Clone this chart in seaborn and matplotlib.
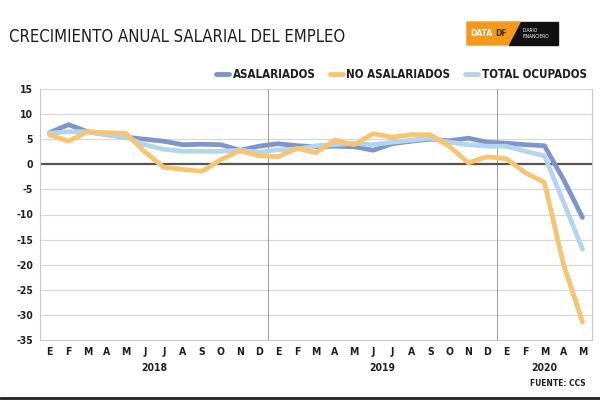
import pandas as pd
import matplotlib.pyplot as plt
from matplotlib.patches import Polygon
from matplotlib.lines import Line2D
import seaborn as sns

# Monthly labels, Jan 2018 .. May 2020 (Spanish initials)
meses = list("EFMAMJJASOND") * 2 + list("EFMAM")
anios = ["2018", "2019", "2020"]

asalariados = [6.3, 7.9, 6.5, 5.9, 5.4, 5.0, 4.6, 3.9, 4.0, 3.9, 2.8, 3.6,
               4.1, 3.7, 3.5, 3.6, 3.5, 2.8, 4.1, 4.6, 5.0, 4.7, 5.2, 4.4,
               4.2, 3.9, 3.7, -3.0, -10.6]
no_asalariados = [5.9, 4.6, 6.5, 6.3, 6.2, 2.5, -0.6, -1.0, -1.4, 0.9, 2.7, 1.7,
                  1.5, 3.2, 2.3, 4.8, 3.9, 6.1, 5.4, 5.9, 5.9, 3.6, 0.3, 1.5,
                  1.1, -1.7, -3.6, -19.9, -31.4]
total_ocupados = [6.2, 6.5, 6.5, 5.9, 5.4, 3.9, 3.0, 2.6, 2.6, 2.6, 2.8, 2.4,
                  2.9, 3.0, 3.7, 3.9, 4.2, 3.9, 4.4, 4.8, 5.2, 4.4, 3.9, 3.6,
                  3.6, 2.6, 1.7, -7.5, -16.9]

series = ["ASALARIADOS", "NO ASALARIADOS", "TOTAL OCUPADOS"]
colores = {"ASALARIADOS": "#7d95c9", "NO ASALARIADOS": "#f8c56e", "TOTAL OCUPADOS": "#b3d5ee"}

df = pd.concat([
    pd.DataFrame({"pos": range(len(meses)), "valor": asalariados, "serie": "ASALARIADOS"}),
    pd.DataFrame({"pos": range(len(meses)), "valor": total_ocupados, "serie": "TOTAL OCUPADOS"}),
    pd.DataFrame({"pos": range(len(meses)), "valor": no_asalariados, "serie": "NO ASALARIADOS"}),
])

sns.set_style("white")
plt.rcParams["font.family"] = ["DejaVu Sans"]
plt.rcParams["font.stretch"] = "condensed"
texto = "#1e1e1e"

fig = plt.figure(figsize=(6, 4), dpi=100)
ax = fig.add_axes([40 / 600, 1 - 340 / 400, 552 / 600, 251 / 400])

sns.lineplot(data=df, x="pos", y="valor", hue="serie", palette=colores,
             linewidth=3.4, ax=ax, legend=False, sort=False)

ax.set_xlim(-0.5, len(meses) - 0.5)
ax.set_ylim(-35, 15)
ax.set_yticks(range(-35, 16, 5))
ax.set_yticklabels([str(v) for v in range(-35, 16, 5)], fontsize=7.5, fontweight="bold",
                   color=texto, fontstretch="condensed")
ax.set_xticks(range(len(meses)))
ax.set_xticklabels(meses, fontsize=7.5, fontweight="bold", color=texto, fontstretch="condensed")
ax.tick_params(length=0, pad=5)
ax.set_xlabel("")
ax.set_ylabel("")

for v in range(-35, 16, 5):
    if v != 0:
        ax.axhline(v, color="#d6d6d6", lw=0.8, zorder=0)
ax.axhline(0, color="#555555", lw=1.6, zorder=1)
for xv in (11.5, 23.5):
    ax.axvline(xv, color="#9a9a9a", lw=0.7, zorder=0)
for side in ("left", "right", "bottom"):
    ax.spines[side].set_color("#c8c8c8")
    ax.spines[side].set_linewidth(0.8)
ax.spines["top"].set_visible(False)

# year labels under each group of months
for anio, (a, b) in zip(anios, [(0, 11), (12, 23), (24, 28)]):
    ax.text((a + b) / 2, -0.11, anio, transform=ax.get_xaxis_transform(),
            ha="center", va="center", fontsize=7.5, fontweight="bold", color=texto,
            fontstretch="condensed")

def fx(x):
    return x / 600

def fy(y):
    return 1 - y / 400

fig.text(fx(9), fy(37), "CRECIMIENTO ANUAL SALARIAL DEL EMPLEO", fontsize=12,
         color=texto, ha="left", va="center", fontstretch="condensed")
fig.text(fx(586), fy(383), "FUENTE: CCS", fontsize=6, fontweight="bold",
         color=texto, ha="right", va="center", fontstretch="condensed")

# legend
handles = [Line2D([], [], color=colores[s], lw=3.5) for s in series]
fig.legend(handles, series, loc="center right", bbox_to_anchor=(fx(597), fy(75)),
           ncol=3, frameon=False, handlelength=1.1, handletextpad=0.3,
           columnspacing=1.3, labelcolor=texto,
           prop={"weight": "bold", "size": 8.3, "stretch": "condensed"})

# logo block
fig.patches.append(Polygon([(fx(467), fy(22)), (fx(521), fy(22)), (fx(509), fy(45)), (fx(467), fy(45))],
                           closed=True, transform=fig.transFigure, color="#f39a1c"))
fig.patches.append(Polygon([(fx(521), fy(22)), (fx(558), fy(22)), (fx(558), fy(45)), (fx(509), fy(45))],
                           closed=True, transform=fig.transFigure, color="#111111"))
fig.text(fx(470), fy(34), "DATA", fontsize=6, fontweight="bold", color="white", va="center",
         fontstretch="condensed")
fig.text(fx(495), fy(34), "DF", fontsize=6, fontweight="bold", color="#3a2a12", va="center",
         fontstretch="condensed")
fig.text(fx(523), fy(30), "DIARIO", fontsize=3.5, color="white", va="center")
fig.text(fx(523), fy(37), "FINANCIERO", fontsize=3.5, color="white", va="center")

fig.add_artist(Line2D([0, 1], [fy(398), fy(398)], transform=fig.transFigure, color="#222222", lw=2))

fig.savefig("out.png", dpi=100)
